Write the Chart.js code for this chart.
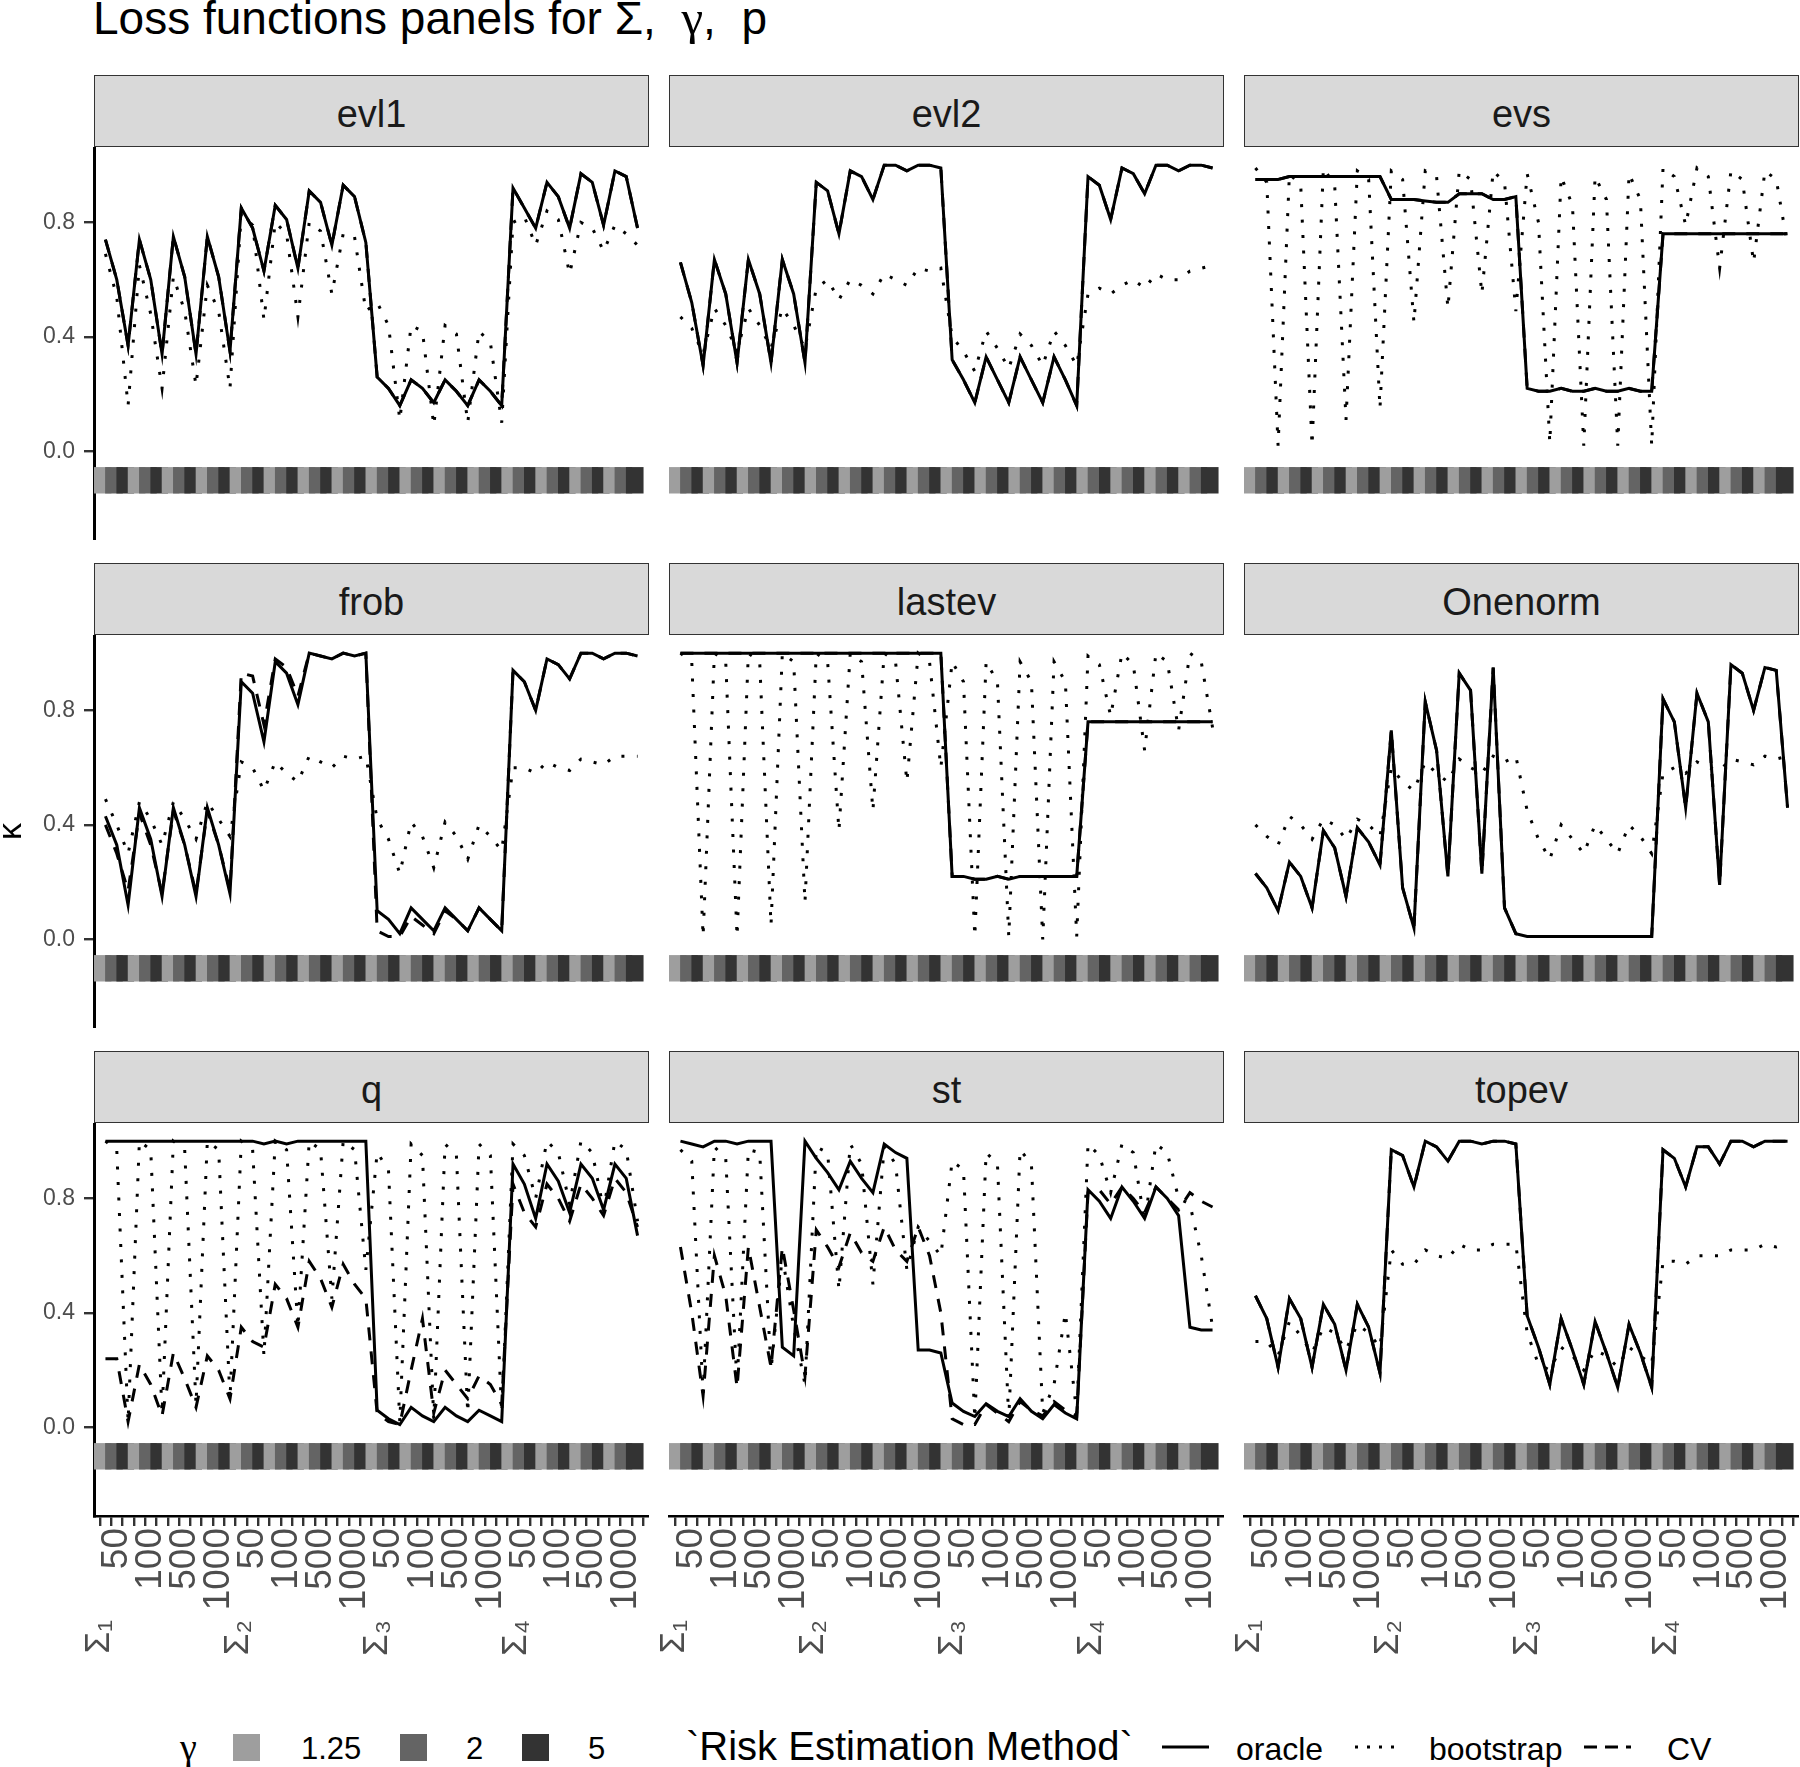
<!DOCTYPE html>
<html>
<head>
<meta charset="utf-8">
<script src="https://cdn.jsdelivr.net/npm/chart.js@4.4.1/dist/chart.umd.min.js"></script>
<style>
  body { margin: 0; background: #fff; }
  #page { position: relative; width: 1800px; height: 1767px; overflow: hidden;
          font-family: 'Liberation Sans', Arial, sans-serif; color: #000; }
  .txt { position: absolute; line-height: 0; white-space: pre; }
  .strip { position: absolute; box-sizing: border-box; background: #d9d9d9; border: 1.5px solid #333; }
  .strip .txt { left: 0; width: 100%; text-align: center; color: #1a1a1a; font-size: 38px; }
  .panel { position: absolute; }
  .key { position: absolute; }
</style>
</head>
<body>
<div id="page"></div>
<script>
// x categories: Sigma x p x gamma (gamma varies fastest)
const sigmas = ['Σ₁', 'Σ₂', 'Σ₃', 'Σ₄'];
const pValues = ['50', '100', '500', '1000'];
const gammas = ['1.25', '2', '5'];
const gammaColors = ['#9e9e9e', '#646464', '#333333'];
const methods = ['oracle', 'bootstrap', 'CV'];
const panels = ['evl1', 'evl2', 'evs', 'frob', 'lastev', 'Onenorm', 'q', 'st', 'topev'];
const yTicks = [0, 0.4, 0.8];

// values, 48 per series
const evl1Oracle = [0.74,0.60,0.37,0.74,0.60,0.34,0.75,0.61,0.34,0.75,0.61,0.35, 0.85,0.78,0.63,0.86,0.81,0.64,0.91,0.87,0.72,0.93,0.89,0.73, 0.26,0.22,0.16,0.25,0.22,0.17,0.25,0.21,0.16,0.25,0.21,0.16, 0.92,0.85,0.78,0.94,0.89,0.78,0.97,0.94,0.79,0.98,0.96,0.78];
const evl1Bootstrap = [0.69,0.54,0.16,0.65,0.48,0.22,0.61,0.49,0.23,0.58,0.49,0.22, 0.83,0.79,0.46,0.80,0.76,0.47,0.80,0.77,0.55,0.76,0.75,0.49, 0.52,0.44,0.11,0.44,0.42,0.09,0.44,0.41,0.10,0.42,0.38,0.10, 0.80,0.82,0.72,0.84,0.81,0.62,0.80,0.78,0.70,0.79,0.76,0.72];
const evl1CV = [0.74,0.60,0.37,0.74,0.60,0.34,0.75,0.61,0.34,0.75,0.61,0.35, 0.85,0.78,0.63,0.86,0.81,0.64,0.91,0.87,0.72,0.93,0.89,0.73, 0.26,0.22,0.16,0.25,0.22,0.17,0.25,0.21,0.16,0.25,0.21,0.16, 0.92,0.85,0.78,0.94,0.89,0.78,0.97,0.94,0.79,0.98,0.96,0.78];

const evl2Oracle = [0.66,0.52,0.30,0.67,0.55,0.31,0.67,0.55,0.31,0.67,0.55,0.31, 0.94,0.91,0.76,0.98,0.96,0.88,1.00,1.00,0.98,1.00,1.00,0.99, 0.32,0.25,0.17,0.33,0.25,0.17,0.33,0.25,0.17,0.33,0.25,0.16, 0.96,0.93,0.81,0.99,0.97,0.90,1.00,1.00,0.98,1.00,1.00,0.99];
const evl2Bootstrap = [0.47,0.43,0.34,0.50,0.44,0.35,0.50,0.44,0.36,0.50,0.44,0.36, 0.57,0.60,0.53,0.60,0.58,0.55,0.62,0.60,0.58,0.64,0.63,0.64, 0.40,0.35,0.28,0.42,0.36,0.29,0.41,0.37,0.30,0.42,0.37,0.30, 0.55,0.57,0.55,0.58,0.60,0.57,0.62,0.60,0.60,0.63,0.64,0.65];
const evl2CV = [0.66,0.52,0.30,0.67,0.55,0.31,0.67,0.55,0.31,0.67,0.55,0.31, 0.94,0.91,0.76,0.98,0.96,0.88,1.00,1.00,0.98,1.00,1.00,0.99, 0.32,0.25,0.17,0.33,0.25,0.17,0.33,0.25,0.17,0.33,0.25,0.16, 0.96,0.93,0.81,0.99,0.97,0.90,1.00,1.00,0.98,1.00,1.00,0.99];

const evsOracle = [0.95,0.95,0.95,0.96,0.96,0.96,0.96,0.96,0.96,0.96,0.96,0.96, 0.88,0.88,0.88,0.875,0.87,0.87,0.90,0.90,0.90,0.88,0.88,0.89, 0.22,0.21,0.21,0.22,0.21,0.21,0.22,0.21,0.21,0.22,0.21,0.21, 0.76,0.76,0.76,0.76,0.76,0.76,0.76,0.76,0.76,0.76,0.76,0.76];
const evsBootstrap = [0.99,0.94,0.02,0.97,0.93,0.02,0.99,0.93,0.11,0.98,0.95,0.15, 0.98,0.95,0.45,0.98,0.96,0.50,0.98,0.95,0.55,0.98,0.94,0.49, 0.97,0.80,0.03,0.96,0.86,0.02,0.96,0.88,0.02,0.97,0.88,0.02, 0.99,0.96,0.79,0.99,0.96,0.64,0.98,0.95,0.66,0.98,0.95,0.72];
const evsCV = [0.95,0.95,0.95,0.96,0.96,0.96,0.96,0.96,0.96,0.96,0.96,0.96, 0.88,0.88,0.88,0.875,0.87,0.87,0.90,0.90,0.90,0.88,0.88,0.89, 0.22,0.21,0.21,0.22,0.21,0.21,0.22,0.21,0.21,0.22,0.21,0.21, 0.76,0.76,0.76,0.76,0.76,0.76,0.76,0.76,0.76,0.76,0.76,0.76];

const frobOracle = [0.43,0.33,0.12,0.46,0.35,0.15,0.46,0.33,0.15,0.46,0.33,0.16, 0.90,0.86,0.69,0.97,0.93,0.82,1.00,0.99,0.98,1.00,0.99,1.00, 0.10,0.07,0.02,0.11,0.07,0.03,0.11,0.07,0.03,0.11,0.07,0.03, 0.94,0.90,0.80,0.98,0.96,0.91,1.00,1.00,0.98,1.00,1.00,0.99];
const frobBootstrap = [0.49,0.40,0.30,0.48,0.42,0.33,0.48,0.42,0.35,0.48,0.42,0.36, 0.62,0.60,0.52,0.62,0.58,0.55,0.64,0.62,0.60,0.64,0.63,0.64, 0.42,0.35,0.23,0.41,0.36,0.25,0.41,0.36,0.28,0.40,0.36,0.31, 0.60,0.60,0.58,0.62,0.60,0.59,0.63,0.62,0.61,0.64,0.64,0.64];
const frobCV = [0.40,0.30,0.17,0.44,0.33,0.16,0.45,0.33,0.16,0.45,0.33,0.17, 0.93,0.92,0.75,0.98,0.95,0.85,1.00,0.99,0.98,1.00,0.99,1.00, 0.03,0.01,0.01,0.08,0.05,0.02,0.10,0.07,0.03,0.11,0.07,0.03, 0.94,0.90,0.80,0.98,0.96,0.91,1.00,1.00,0.98,1.00,1.00,0.99];

const lastevOracle = [1.00,1.00,1.00,1.00,1.00,1.00,1.00,1.00,1.00,1.00,1.00,1.00, 1.00,1.00,1.00,1.00,1.00,1.00,1.00,1.00,1.00,1.00,1.00,1.00, 0.22,0.22,0.21,0.21,0.22,0.21,0.22,0.22,0.22,0.22,0.22,0.22, 0.76,0.76,0.76,0.76,0.76,0.76,0.76,0.76,0.76,0.76,0.76,0.76];
const lastevBootstrap = [1.00,0.97,0.01,1.00,0.97,0.01,1.00,0.97,0.05,1.00,0.97,0.13, 1.00,0.97,0.38,1.00,0.97,0.45,1.00,0.97,0.55,1.00,0.97,0.60, 0.97,0.90,0.01,0.97,0.90,0.01,0.97,0.90,0.00,0.97,0.90,0.01, 0.99,0.96,0.78,1.00,0.96,0.66,1.00,0.97,0.73,1.00,0.97,0.74];
const lastevCV = [1.00,1.00,1.00,1.00,1.00,1.00,1.00,1.00,1.00,1.00,1.00,1.00, 1.00,1.00,1.00,1.00,1.00,1.00,1.00,1.00,1.00,1.00,1.00,1.00, 0.22,0.22,0.21,0.21,0.22,0.21,0.22,0.22,0.22,0.22,0.22,0.22, 0.76,0.76,0.76,0.76,0.76,0.76,0.76,0.76,0.76,0.76,0.76,0.76];

const OnenormOracle = [0.23,0.18,0.10,0.27,0.22,0.11,0.38,0.32,0.15,0.39,0.34,0.26, 0.73,0.18,0.04,0.83,0.66,0.22,0.93,0.87,0.23,0.95,0.11,0.02, 0.01,0.01,0.01,0.01,0.01,0.01,0.01,0.01,0.01,0.01,0.01,0.01, 0.84,0.76,0.46,0.86,0.76,0.19,0.96,0.93,0.80,0.95,0.94,0.46];
const OnenormBootstrap = [0.40,0.36,0.33,0.43,0.40,0.35,0.42,0.40,0.35,0.42,0.40,0.36, 0.60,0.55,0.52,0.62,0.58,0.55,0.63,0.60,0.58,0.64,0.62,0.64, 0.45,0.35,0.28,0.40,0.35,0.30,0.40,0.35,0.30,0.40,0.36,0.30, 0.58,0.60,0.58,0.62,0.60,0.59,0.63,0.62,0.61,0.64,0.63,0.64];
const OnenormCV = [0.23,0.18,0.10,0.27,0.22,0.11,0.38,0.32,0.15,0.39,0.34,0.26, 0.73,0.18,0.04,0.83,0.66,0.22,0.93,0.87,0.23,0.95,0.11,0.02, 0.01,0.01,0.01,0.01,0.01,0.01,0.01,0.01,0.01,0.01,0.01,0.01, 0.84,0.76,0.46,0.86,0.76,0.19,0.96,0.93,0.80,0.95,0.94,0.46];

const qOracle = [1.00,1.00,1.00,1.00,1.00,1.00,1.00,1.00,1.00,1.00,1.00,1.00, 1.00,1.00,0.99,1.00,0.99,1.00,1.00,1.00,1.00,1.00,1.00,1.00, 0.06,0.03,0.01,0.07,0.04,0.02,0.07,0.04,0.02,0.06,0.04,0.02, 0.92,0.85,0.73,0.92,0.86,0.75,0.92,0.87,0.76,0.92,0.87,0.67];
const qBootstrap = [1.00,0.97,0.02,1.00,0.97,0.05,1.00,0.97,0.08,1.00,0.97,0.10, 1.00,0.97,0.25,1.00,0.97,0.35,1.00,0.97,0.45,1.00,0.97,0.55, 0.96,0.90,0.02,0.99,0.95,0.03,0.99,0.95,0.05,0.99,0.95,0.05, 0.99,0.95,0.80,1.00,0.96,0.78,1.00,0.96,0.76,1.00,0.97,0.72];
const qCV = [0.24,0.24,0.02,0.22,0.15,0.04,0.26,0.17,0.07,0.25,0.20,0.10, 0.35,0.30,0.28,0.50,0.45,0.35,0.58,0.52,0.42,0.57,0.50,0.45, 0.05,0.02,0.01,0.20,0.38,0.05,0.20,0.15,0.10,0.18,0.15,0.08, 0.85,0.75,0.70,0.85,0.80,0.72,0.85,0.80,0.74,0.87,0.82,0.70];

const stOracle = [1.00,0.99,0.98,1.00,1.00,0.99,1.00,1.00,1.00,0.28,0.25,1.00, 0.94,0.89,0.83,0.93,0.87,0.82,0.99,0.96,0.94,0.27,0.27,0.26, 0.085,0.056,0.038,0.083,0.056,0.038,0.10,0.056,0.03,0.08,0.05,0.03, 0.83,0.79,0.73,0.84,0.79,0.73,0.84,0.80,0.74,0.35,0.34,0.34];
const stBootstrap = [0.97,0.93,0.12,0.98,0.94,0.15,0.97,0.96,0.20,0.60,0.35,0.15, 0.98,0.96,0.48,0.99,0.92,0.50,0.98,0.92,0.55,0.70,0.65,0.60, 0.93,0.90,0.03,0.96,0.92,0.03,0.97,0.92,0.05,0.15,0.40,0.05, 0.99,0.95,0.82,0.99,0.96,0.72,0.99,0.96,0.80,0.78,0.60,0.35];
const stCV = [0.63,0.40,0.11,0.60,0.46,0.14,0.63,0.42,0.21,0.63,0.41,0.18, 0.69,0.63,0.56,0.68,0.61,0.58,0.70,0.62,0.58,0.70,0.60,0.40, 0.03,0.01,0.01,0.08,0.05,0.02,0.09,0.06,0.04,0.09,0.06,0.04, 0.82,0.83,0.78,0.84,0.80,0.75,0.84,0.80,0.76,0.82,0.79,0.77];

const topevOracle = [0.46,0.38,0.21,0.45,0.38,0.21,0.43,0.36,0.20,0.43,0.35,0.19, 0.97,0.95,0.84,1.00,0.98,0.93,1.00,1.00,0.99,1.00,1.00,0.99, 0.39,0.28,0.15,0.38,0.27,0.15,0.37,0.26,0.14,0.36,0.26,0.14, 0.97,0.94,0.84,0.98,0.98,0.92,1.00,1.00,0.98,1.00,1.00,1.00];
const topevBootstrap = [0.30,0.30,0.25,0.37,0.32,0.26,0.35,0.33,0.27,0.36,0.33,0.28, 0.62,0.57,0.57,0.62,0.60,0.59,0.64,0.62,0.62,0.64,0.64,0.64, 0.33,0.22,0.20,0.28,0.25,0.20,0.27,0.25,0.21,0.28,0.25,0.22, 0.58,0.58,0.57,0.60,0.60,0.60,0.62,0.62,0.62,0.64,0.63,0.64];
const topevCV = [0.46,0.38,0.21,0.45,0.38,0.21,0.43,0.36,0.20,0.43,0.35,0.19, 0.97,0.95,0.84,1.00,0.98,0.93,1.00,1.00,0.99,1.00,1.00,0.99, 0.39,0.28,0.15,0.38,0.27,0.15,0.37,0.26,0.14,0.36,0.26,0.14, 0.97,0.94,0.84,0.98,0.98,0.92,1.00,1.00,0.98,1.00,1.00,1.00];

const series = {
  evl1: [evl1Oracle, evl1Bootstrap, evl1CV],
  evl2: [evl2Oracle, evl2Bootstrap, evl2CV],
  evs: [evsOracle, evsBootstrap, evsCV],
  frob: [frobOracle, frobBootstrap, frobCV],
  lastev: [lastevOracle, lastevBootstrap, lastevCV],
  Onenorm: [OnenormOracle, OnenormBootstrap, OnenormCV],
  q: [qOracle, qBootstrap, qCV],
  st: [stOracle, stBootstrap, stCV],
  topev: [topevOracle, topevBootstrap, topevCV]
};

const combos = [];
sigmas.forEach((s, si) => pValues.forEach(p => gammas.forEach((g, gi) => combos.push({ s, si, p, g, gi }))));
const pTickLabels = combos.map(c => c.gi === 1 ? c.p : '');
const sigmaTickIdx = combos.map((c, i) => (c.p === pValues[0] && c.gi === 0) ? i : -1).filter(i => i >= 0);

// layout
const colLeft = [94, 669, 1244];
const rowTop = [147, 635, 1123];
const plotW = 555, plotH = 393, stripH = 72;
const gutter = 20;   // room left of inner panels for the first tick label
const yMin = -0.3096, yMax = 1.0634;
const tileLo = -0.146, tileHi = -0.056;
const xAxisH = 100, sigmaAxisH = 90;
const FONT = "'Liberation Sans', Arial, sans-serif";

Chart.defaults.font.family = FONT;
const page = document.getElementById('page');

function addText(str, x, baseline, size, opts = {}) {
  const d = document.createElement('div');
  d.className = 'txt';
  d.style.left = x + 'px';
  d.style.top = (baseline - 0.3465 * size) + 'px';
  d.style.fontSize = size + 'px';
  if (opts.family) d.style.fontFamily = opts.family;
  if (opts.color) d.style.color = opts.color;
  if (opts.html) d.innerHTML = str; else d.textContent = str;
  page.appendChild(d);
  return d;
}

addText('Loss functions panels for Σ,  <span style="font-family:\'Liberation Serif\',serif;font-size:49px">γ</span>,  p', 93, 34, 46, { html: true });

const toXY = vals => vals.map((v, i) => ({ x: i, y: v }));

panels.forEach((name, k) => {
  const r = Math.floor(k / 3), c = k % 3;
  const isLeft = c === 0, isBottom = r === 2;

  const strip = document.createElement('div');
  strip.className = 'strip';
  Object.assign(strip.style, { left: colLeft[c] + 'px', top: (rowTop[r] - stripH) + 'px', width: plotW + 'px', height: stripH + 'px' });
  const st = document.createElement('div');
  st.className = 'txt';
  st.style.top = (52.3 - 1.5 - 0.3465 * 38) + 'px';
  st.textContent = name;
  strip.appendChild(st);
  page.appendChild(strip);

  const wrap = document.createElement('div');
  wrap.className = 'panel';
  const leftRoom = isLeft ? colLeft[0] : gutter;
  const left = colLeft[c] - leftRoom;
  const width = leftRoom + plotW;
  const height = plotH + (isBottom ? xAxisH + sigmaAxisH : 0);
  Object.assign(wrap.style, { left: left + 'px', top: rowTop[r] + 'px', width: width + 'px', height: height + 'px' });
  const canvas = document.createElement('canvas');
  wrap.appendChild(canvas);
  page.appendChild(wrap);

  const [oracle, boot, cv] = series[name];
  const lineBase = { borderColor: '#000', borderWidth: 3, pointRadius: 0, tension: 0, fill: false, borderCapStyle: 'butt' };

  new Chart(canvas, {
    type: 'line',
    data: {
      datasets: [
        Object.assign({ label: methods[0], data: toXY(oracle), order: 0 }, lineBase),
        Object.assign({ label: methods[2], data: toXY(cv), order: 1 }, lineBase, { borderDash: [13, 11] }),
        Object.assign({ label: methods[1], data: toXY(boot), order: 2 }, lineBase, { borderDash: [3, 12.5] }),
        {
          // gamma strip: one tile per x position, each overlapping the next by half a step
          type: 'bar', label: 'γ', order: 3,
          data: combos.map((cb, i) => ({ x: i - 0.25, y: [tileLo, tileHi] })),
          backgroundColor: combos.map(cb => gammaColors[cb.gi]),
          borderWidth: 0, barThickness: 'flex', barPercentage: 1.5, categoryPercentage: 1, clip: 0
        }
      ]
    },
    options: {
      responsive: true, maintainAspectRatio: false, animation: false, events: [],
      layout: { padding: 0 },
      plugins: { legend: { display: false }, tooltip: { enabled: false } },
      scales: {
        x: {
          type: 'linear', position: 'bottom', weight: 0, min: -0.5, max: 47.5, bounds: 'data',
          display: isBottom,
          afterBuildTicks: s => { s.ticks = combos.map((cb, i) => ({ value: i })); },
          afterFit: s => { s.height = isBottom ? xAxisH : 0; s.paddingLeft = 0; s.paddingRight = 0; },
          grid: { drawOnChartArea: false, drawTicks: true, tickLength: 10, color: '#333', lineWidth: 2.4 },
          border: { display: true, color: '#000', width: 2.5 },
          ticks: {
            autoSkip: false, minRotation: 90, maxRotation: 90, padding: 2,
            color: '#4d4d4d', font: { size: 37 },
            callback: (v, i) => pTickLabels[i]
          }
        },
        x2: {
          type: 'linear', position: 'bottom', weight: 1, min: -0.5, max: 47.5, bounds: 'data',
          display: isBottom,
          afterBuildTicks: s => { s.ticks = sigmaTickIdx.map(i => ({ value: i })); },
          afterFit: s => { s.height = isBottom ? sigmaAxisH : 0; s.paddingLeft = 0; s.paddingRight = 0; },
          grid: { display: false, drawTicks: false },
          border: { display: false },
          ticks: {
            autoSkip: false, minRotation: 90, maxRotation: 90, padding: 4,
            color: '#4d4d4d', font: { size: 35, family: "'Liberation Sans', 'DejaVu Sans', sans-serif" },
            callback: (v, i) => sigmas[i]
          }
        },
        y: {
          type: 'linear', position: 'left', min: yMin, max: yMax, bounds: 'data',
          display: isLeft,
          afterBuildTicks: s => { s.ticks = yTicks.map(v => ({ value: v })); },
          afterFit: s => { s.width = leftRoom; s.paddingTop = 0; s.paddingBottom = 0; },
          grid: { drawOnChartArea: false, drawTicks: true, tickLength: 10, color: '#333', lineWidth: 2.4 },
          border: { display: true, color: '#000', width: 3 },
          ticks: { color: '#4d4d4d', font: { size: 23 }, padding: 9, callback: v => v.toFixed(1) },
          title: { display: r === 1, text: 'κ', color: '#000', font: { size: 34, lineHeight: 0.7 }, padding: 0 }
        }
      }
    }
  });
});

// legend
addText('γ', 180, 1760, 38, { family: "'Liberation Serif', serif" });
const sqX = [233, 400, 522], labX = [301, 466, 588];
gammas.forEach((g, i) => {
  const sq = document.createElement('div');
  sq.className = 'key';
  Object.assign(sq.style, { left: sqX[i] + 'px', top: '1734px', width: '27px', height: '27px', background: gammaColors[i] });
  page.appendChild(sq);
  addText(g, labX[i], 1760, 31);
});
addText('`Risk Estimation Method`', 686, 1760, 40);
const keyX = [1162, 1355, 1584], methX = [1236, 1429, 1667];
const keyDash = ['', '3 9', '13 8'];
methods.forEach((m, i) => {
  const svg = document.createElementNS('http://www.w3.org/2000/svg', 'svg');
  svg.setAttribute('width', '47'); svg.setAttribute('height', '10');
  svg.setAttribute('class', 'key');
  svg.style.left = keyX[i] + 'px'; svg.style.top = '1742px';
  const ln = document.createElementNS('http://www.w3.org/2000/svg', 'line');
  ln.setAttribute('x1', '0'); ln.setAttribute('x2', '47'); ln.setAttribute('y1', '5'); ln.setAttribute('y2', '5');
  ln.setAttribute('stroke', '#000'); ln.setAttribute('stroke-width', '3');
  if (keyDash[i]) ln.setAttribute('stroke-dasharray', keyDash[i]);
  svg.appendChild(ln);
  page.appendChild(svg);
  addText(m, methX[i], 1760, 32);
});
</script>
</body>
</html>
